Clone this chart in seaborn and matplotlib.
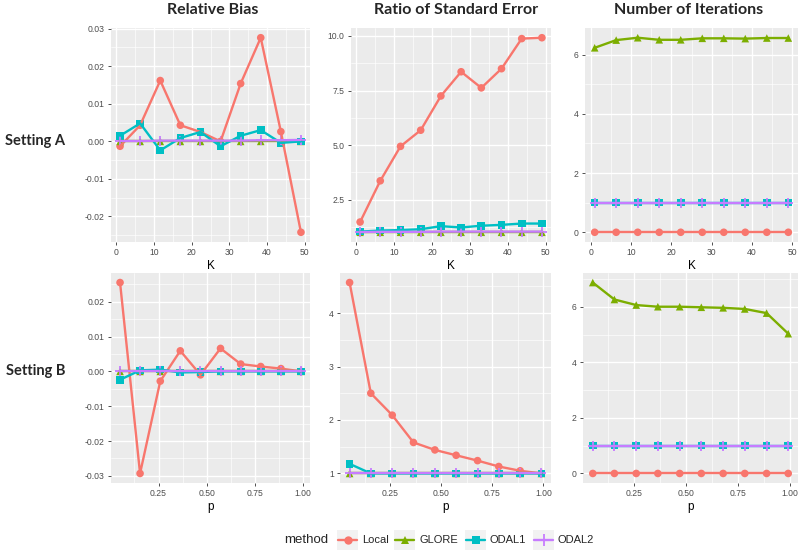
import numpy as np
import pandas as pd
import matplotlib
matplotlib.use("Agg")
import matplotlib.pyplot as plt
import seaborn as sns
from matplotlib.ticker import MultipleLocator, AutoMinorLocator, FormatStrFormatter
from matplotlib.lines import Line2D
from matplotlib.patches import Rectangle

# ---------------- data ----------------
methods = ["Local", "GLORE", "ODAL1", "ODAL2"]
K = [1, 6.33, 11.67, 17, 22.33, 27.67, 33, 38.33, 43.67, 49]
p = [0.05, 0.154, 0.259, 0.363, 0.468, 0.572, 0.677, 0.781, 0.886, 0.99]

# Setting A (x = K)
biasA_local = [-0.0013, 0.0043, 0.0162, 0.0043, 0.0025, 0.0000, 0.0154, 0.0276, 0.0026, -0.0242]
biasA_glore = [0.0000, 0.0000, 0.0000, 0.0000, 0.0000, 0.0000, 0.0000, 0.0000, 0.0000, 0.0000]
biasA_odal1 = [0.0015, 0.0048, -0.0024, 0.0009, 0.0025, -0.0013, 0.0015, 0.0030, -0.0004, 0.0000]
biasA_odal2 = [0.0001, 0.0001, 0.0002, 0.0002, 0.0002, 0.0002, 0.0002, 0.0003, 0.0003, 0.0004]

seA_local = [1.47, 3.36, 4.94, 5.68, 7.25, 8.36, 7.62, 8.50, 9.88, 9.92]
seA_glore = [1.00, 1.00, 1.00, 1.00, 1.00, 1.00, 1.00, 1.00, 1.00, 1.00]
seA_odal1 = [1.03, 1.08, 1.10, 1.14, 1.28, 1.22, 1.30, 1.34, 1.40, 1.40]
seA_odal2 = [1.01, 1.02, 1.02, 1.02, 1.03, 1.03, 1.03, 1.03, 1.03, 1.03]

itA_local = [0, 0, 0, 0, 0, 0, 0, 0, 0, 0]
itA_glore = [6.23, 6.49, 6.57, 6.50, 6.50, 6.55, 6.55, 6.54, 6.56, 6.56]
itA_odal1 = [1, 1, 1, 1, 1, 1, 1, 1, 1, 1]
itA_odal2 = [1, 1, 1, 1, 1, 1, 1, 1, 1, 1]

# Setting B (x = p)
biasB_local = [0.0255, -0.0293, -0.0028, 0.0059, -0.0010, 0.0066, 0.0021, 0.0014, 0.0008, 0.0000]
biasB_glore = [0.0000, 0.0000, 0.0000, 0.0000, 0.0000, 0.0000, 0.0000, 0.0000, 0.0000, 0.0000]
biasB_odal1 = [-0.0024, 0.0003, 0.0005, -0.0003, -0.0002, 0.0000, 0.0000, 0.0000, 0.0000, 0.0000]
biasB_odal2 = [0.0000, 0.0000, 0.0000, 0.0000, 0.0000, 0.0000, 0.0000, 0.0000, 0.0000, 0.0000]

seB_local = [4.57, 2.50, 2.09, 1.58, 1.44, 1.34, 1.24, 1.13, 1.05, 1.00]
seB_glore = [1.00, 1.00, 1.00, 1.00, 1.00, 1.00, 1.00, 1.00, 1.00, 1.00]
seB_odal1 = [1.18, 1.00, 1.00, 1.00, 1.00, 1.00, 1.00, 1.00, 1.00, 1.00]
seB_odal2 = [1.00, 1.00, 1.00, 1.00, 1.00, 1.00, 1.00, 1.00, 1.00, 1.00]

itB_local = [0, 0, 0, 0, 0, 0, 0, 0, 0, 0]
itB_glore = [6.87, 6.26, 6.06, 6.00, 6.00, 5.98, 5.96, 5.92, 5.77, 5.03]
itB_odal1 = [1, 1, 1, 1, 1, 1, 1, 1, 1, 1]
itB_odal2 = [1, 1, 1, 1, 1, 1, 1, 1, 1, 1]

col_titles = ["Relative Bias", "Ratio of Standard Error", "Number of Iterations"]
row_titles = ["Setting A", "Setting B"]

# ---------------- style ----------------
sns.set_theme(style="darkgrid")
plt.rcParams.update({
    "axes.facecolor": "#EBEBEB",
    "grid.color": "white",
    "xtick.bottom": True, "ytick.left": True,
    "xtick.major.size": 2.5, "ytick.major.size": 2.5,
    "xtick.major.width": 0.6, "ytick.major.width": 0.6,
    "xtick.color": "#333333", "ytick.color": "#333333",
    "xtick.labelcolor": "#4D4D4D", "ytick.labelcolor": "#4D4D4D",
    "xtick.labelsize": 6.2, "ytick.labelsize": 6.2,
    "xtick.major.pad": 2, "ytick.major.pad": 2,
    "xtick.minor.size": 0, "ytick.minor.size": 0,
})
plt.rcParams["font.family"] = ["Liberation Sans", "DejaVu Sans"]

palette = dict(zip(methods, ["#F8766D", "#7CAE00", "#00BFC4", "#C77CFF"]))
filled_markers = {"Local": "o", "GLORE": "^", "ODAL1": "s"}

W, H = 800, 552
fig = plt.figure(figsize=(W / 100, H / 100), dpi=100)


def px_axes(l, t, r, b):
    return fig.add_axes([l / W, 1 - b / H, (r - l) / W, (b - t) / H])


def make_df(x, series):
    rows = []
    for m, vals in zip(methods, series):
        for xi, v in zip(x, vals):
            rows.append({"x": xi, "value": v, "method": m})
    return pd.DataFrame(rows)


panels = [
    ((111, 28, 310, 242), K, [biasA_local, biasA_glore, biasA_odal1, biasA_odal2], 0.01, "%.2f", 10, "%d", "K"),
    ((351, 28, 551, 242), K, [seA_local, seA_glore, seA_odal1, seA_odal2], 2.5, "%.1f", 10, "%d", "K"),
    ((585, 28, 798, 242), K, [itA_local, itA_glore, itA_odal1, itA_odal2], 2, "%d", 10, "%d", "K"),
    ((111, 273, 310, 483), p, [biasB_local, biasB_glore, biasB_odal1, biasB_odal2], 0.01, "%.2f", 0.25, "%.2f", "p"),
    ((340, 273, 551, 483), p, [seB_local, seB_glore, seB_odal1, seB_odal2], 1, "%d", 0.25, "%.2f", "p"),
    ((583, 273, 798, 483), p, [itB_local, itB_glore, itB_odal1, itB_odal2], 2, "%d", 0.25, "%.2f", "p"),
]

for box, x, series, ymaj, yfmt, xmaj, xfmt, xlab in panels:
    ax = px_axes(*box)
    df = make_df(x, series)
    sns.lineplot(data=df, x="x", y="value", hue="method", hue_order=methods,
                 palette=palette, linewidth=1.7, legend=False, sort=False,
                 estimator=None, ax=ax)
    dff = df[df["method"] != "ODAL2"]
    sns.scatterplot(data=dff, x="x", y="value", hue="method", style="method",
                    hue_order=methods[:3], style_order=methods[:3],
                    palette=palette, markers=filled_markers, s=30,
                    linewidth=0, legend=False, ax=ax)
    dfo = df[df["method"] == "ODAL2"]
    sns.scatterplot(data=dfo, x="x", y="value", color=palette["ODAL2"],
                    marker="+", s=42, linewidth=1.3, legend=False, ax=ax)
    ax.margins(x=0.05, y=0.05)
    ax.yaxis.set_major_locator(MultipleLocator(ymaj))
    ax.yaxis.set_major_formatter(FormatStrFormatter(yfmt))
    ax.xaxis.set_major_locator(MultipleLocator(xmaj))
    ax.xaxis.set_major_formatter(FormatStrFormatter(xfmt))
    ax.xaxis.set_minor_locator(AutoMinorLocator(2))
    ax.yaxis.set_minor_locator(AutoMinorLocator(2))
    ax.grid(which="major", color="white", linewidth=1.0)
    ax.grid(which="minor", color="white", linewidth=0.45)
    for s in ax.spines.values():
        s.set_visible(False)
    ax.set_xlabel(xlab, fontsize=8.5, color="black", labelpad=2)
    ax.set_ylabel("")

# column titles
for cx, t in zip([213, 456, 689], col_titles):
    fig.text(cx / W, 1 - 10 / H, t, ha="center", va="center", fontsize=11.5,
             fontweight="bold", family=["Lato", "DejaVu Sans"])

# row titles
for cy, t in zip([141, 371], row_titles):
    fig.text(65 / W, 1 - cy / H, t, ha="right", va="center", fontsize=10.5,
             fontweight="bold", family=["Lato", "DejaVu Sans"])

# legend
lax = fig.add_axes([0, 0, 1, 1], facecolor="none")
lax.set_xlim(0, W)
lax.set_ylim(H, 0)
lax.axis("off")
ly = 540
lax.text(328, ly, "method", ha="right", va="center", fontsize=9.5)
key_x = [337, 394, 465, 533]
for kx, m in zip(key_x, methods):
    lax.add_patch(Rectangle((kx, ly - 10), 21, 20, facecolor="#F2F2F2", edgecolor="none"))
    lax.add_line(Line2D([kx + 1, kx + 20], [ly, ly], color=palette[m], linewidth=1.7))
    mk = filled_markers.get(m, "+")
    if mk == "+":
        lax.add_line(Line2D([kx + 10.5], [ly], marker="+", markersize=8,
                            markeredgewidth=1.3, color=palette[m]))
    else:
        lax.add_line(Line2D([kx + 10.5], [ly], marker=mk, markersize=6,
                            markeredgewidth=0, color=palette[m]))
    lax.text(kx + 25, ly, m, ha="left", va="center", fontsize=8)

fig.savefig("out.png", dpi=100)
